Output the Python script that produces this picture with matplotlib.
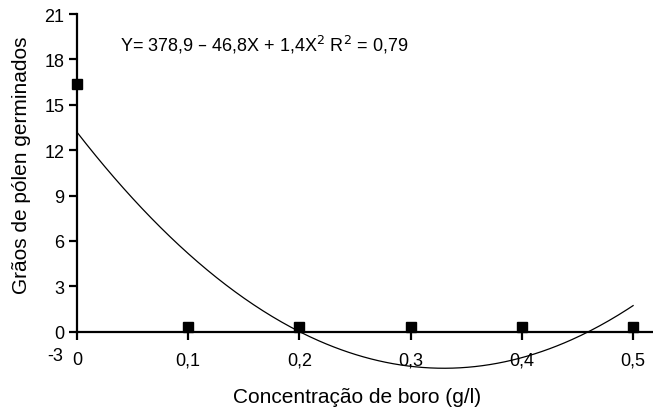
import numpy as np
import matplotlib
matplotlib.use("Agg")
import matplotlib.pyplot as plt
from matplotlib.transforms import offset_copy

plt.rcParams['font.family'] = ['Liberation Sans', 'DejaVu Sans']

conc = [0.0, 0.1, 0.2, 0.3, 0.4, 0.5]
graos = [16.05, 0.0, 0.0, 0.0, 0.0, 0.0]
xtick_vals = [0.0, 0.1, 0.2, 0.3, 0.4, 0.5]
xtick_labels = ['0', '0,1', '0,2', '0,3', '0,4', '0,5']
ytick_vals = [0, 3, 6, 9, 12, 15, 18, 21]
equation = r'Y= 378,9 – 46,8X + 1,4X$^{2}$ R$^{2}$ = 0,79'

W, H = 653, 410
fig = plt.figure(figsize=(W/100, H/100), dpi=100)
ax = fig.add_axes([77/W, 32/H, (652-77)/W, (378-15)/H])

coef = np.polyfit(conc, graos, 2)
xs = np.linspace(0, 0.5, 300)
ax.plot(xs, np.polyval(coef, xs), color='black', lw=0.9, zorder=2)
# markers drawn slightly raised, as in the original graphic
mk_trans = offset_copy(ax.transData, fig=fig, x=0, y=4.5, units='dots')
ax.plot(conc, graos, 's', color='black', ms=6.8, clip_on=False, zorder=3,
        transform=mk_trans)

ax.set_xlim(0, 0.517)
ax.set_ylim(-3, 21)
for s in ['top', 'right']:
    ax.spines[s].set_visible(False)
ax.spines['bottom'].set_position(('data', 0))
ax.spines['left'].set_bounds(0, 21)
ax.spines['left'].set_linewidth(1.6)
ax.spines['bottom'].set_linewidth(1.6)

ax.set_xticks(xtick_vals)
ax.set_xticklabels(xtick_labels, fontsize=13)
ax.set_yticks(ytick_vals)
ax.set_yticklabels([str(v) for v in ytick_vals], fontsize=13)
ax.tick_params(axis='both', direction='out', length=6, width=1.6, pad=3)
ax.tick_params(axis='x', pad=8)

fig.text(63/W, 1 - 357/H, '-3', ha='right', va='center', fontsize=13)

fig.text((233+482)/2/W, 1 - 398/H, 'Concentração de boro (g/l)',
         ha='center', va='center', fontsize=15)
fig.text(22/W, 1 - 165/H, 'Grãos de pólen germinados',
         ha='center', va='center', rotation=90, fontsize=15)

fig.text(120/W, 1 - 45/H, equation, fontsize=13, ha='left', va='center')

fig.savefig('out.png', dpi=100)
